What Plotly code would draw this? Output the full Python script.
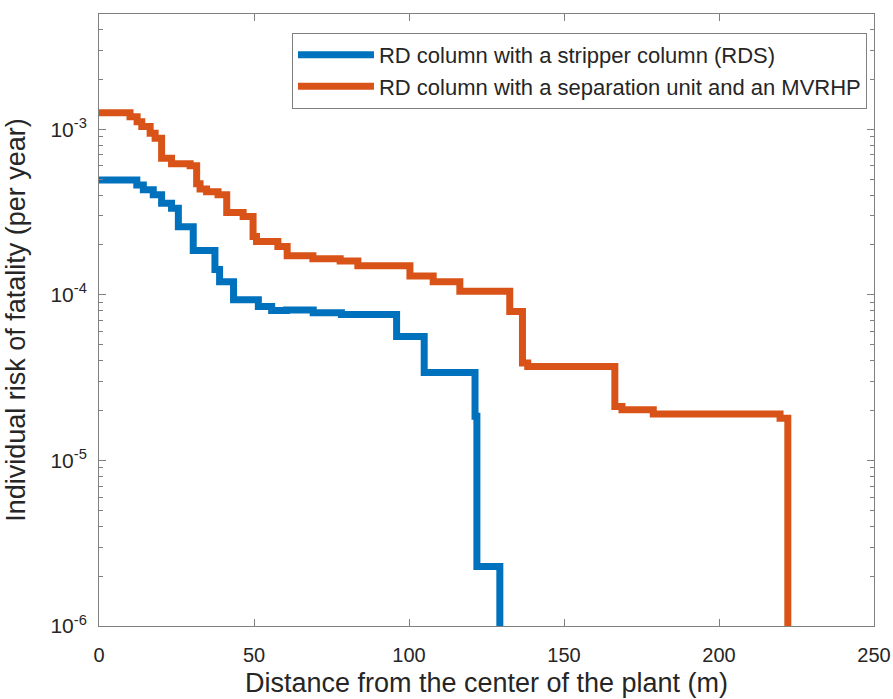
import plotly.graph_objects as go

# Distance (m) at which each step starts, and risk (per year) held until the next step
rds_x = [0, 12.2, 14.3, 17.5, 20.2, 23.4, 25.6, 30.4, 37.4, 38.9, 43.4, 51.4, 55.7,
         60.5, 69.1, 78.2, 96.0, 104.9, 121.3, 121.9, 129.3, 129.5]
rds_y = [4.94e-4, 4.61e-4, 4.31e-4, 4.02e-4, 3.57e-4, 3.33e-4, 2.58e-4, 1.85e-4,
         1.42e-4, 1.20e-4, 9.33e-5, 8.5e-5, 8.03e-5,
         8.1e-5, 7.8e-5, 7.6e-5, 5.6e-5, 3.4e-5, 1.85e-5, 2.29e-6, 1e-8, 1e-8]

mvr_x = [0, 10.0, 12.3, 13.8, 16.5, 18.1, 20.2, 23.4, 29.4, 31.5, 32.6, 34.7, 38.4,
         41.2, 46.5, 49.7, 50.8, 57.7, 60.7, 69.0, 77.8, 83.5, 100.3, 107.8, 116.4,
         132.5, 136.6, 138.3, 166.4, 168.7, 178.8, 219.7, 222.2, 222.4]
mvr_y = [1.26e-3, 1.19e-3, 1.11e-3, 1.04e-3, 9.46e-4, 8.83e-4, 6.68e-4, 6.18e-4, 6.01e-4,
         4.68e-4, 4.35e-4, 4.20e-4, 4.02e-4, 3.14e-4, 2.97e-4, 2.25e-4, 2.10e-4,
         1.96e-4, 1.72e-4, 1.65e-4, 1.60e-4, 1.50e-4, 1.30e-4, 1.20e-4, 1.05e-4,
         7.92e-5, 3.87e-5, 3.69e-5, 2.12e-5, 2.02e-5, 1.91e-5, 1.80e-5, 1e-8, 1e-8]

series_names = ["RD column with a stripper column (RDS)",
                "RD column with a separation unit and an MVRHP"]
series_colors = ["#0072BD", "#D95319"]

x_ticks = [0, 50, 100, 150, 200, 250]
y_tick_vals = [1e-6, 1e-5, 1e-4, 1e-3]
y_tick_text = ["10<sup>-6</sup>", "10<sup>-5</sup>", "10<sup>-4</sup>", "10<sup>-3</sup>"]
decades = [1e-6, 1e-5, 1e-4, 1e-3]
mantissas = [2, 3, 4, 5, 6, 7, 8, 9]
y_minor_vals = [m * d for d in decades for m in mantissas]

FONT = "Liberation Sans, Arial, sans-serif"
AX = "#808080"
TXT = "#262626"

fig = go.Figure()
for xs, ys, name, col in [(rds_x, rds_y, series_names[0], series_colors[0]),
                          (mvr_x, mvr_y, series_names[1], series_colors[1])]:
    fig.add_trace(go.Scatter(x=xs, y=ys, mode="lines", name=name,
                             line=dict(color=col, width=7, shape="hv")))

fig.update_layout(
    width=893, height=699,
    margin=dict(l=99, r=19, t=14, b=73),
    paper_bgcolor="white", plot_bgcolor="white",
    font=dict(family=FONT, size=20, color=TXT),
    showlegend=True,
    legend=dict(x=0.249, y=0.969, xanchor="left", yanchor="top",
                bgcolor="white", bordercolor=AX, borderwidth=1,
                font=dict(family=FONT, size=22, color=TXT),
                tracegroupgap=0, itemwidth=76),
)
fig.update_xaxes(range=[0, 250], tickvals=x_ticks, ticks="inside", ticklen=7,
                 tickcolor=AX, showline=True, linecolor=AX, linewidth=1, mirror="ticks",
                 showgrid=False, zeroline=False, automargin=False,
                 ticklabeloverflow="allow", ticklabelstandoff=11,
                 title=dict(text="Distance from the center of the plant (m)", standoff=8,
                            font=dict(size=27)),
                 tickfont=dict(size=20))
fig.update_yaxes(type="log", range=[-6, -2.304], tickvals=y_tick_vals, ticktext=y_tick_text,
                 ticks="inside", ticklen=7, tickcolor=AX, showline=True, linecolor=AX,
                 linewidth=1, mirror="ticks", showgrid=False, zeroline=False,
                 automargin=False, ticklabeloverflow="allow", ticklabelstandoff=7,
                 minor=dict(tickvals=y_minor_vals, ticks="inside", ticklen=4,
                            tickcolor=AX, showgrid=False),
                 title=dict(text="Individual risk of fatality (per year)", standoff=16,
                            font=dict(size=27)),
                 tickfont=dict(size=21))

fig.write_html("out.html")
